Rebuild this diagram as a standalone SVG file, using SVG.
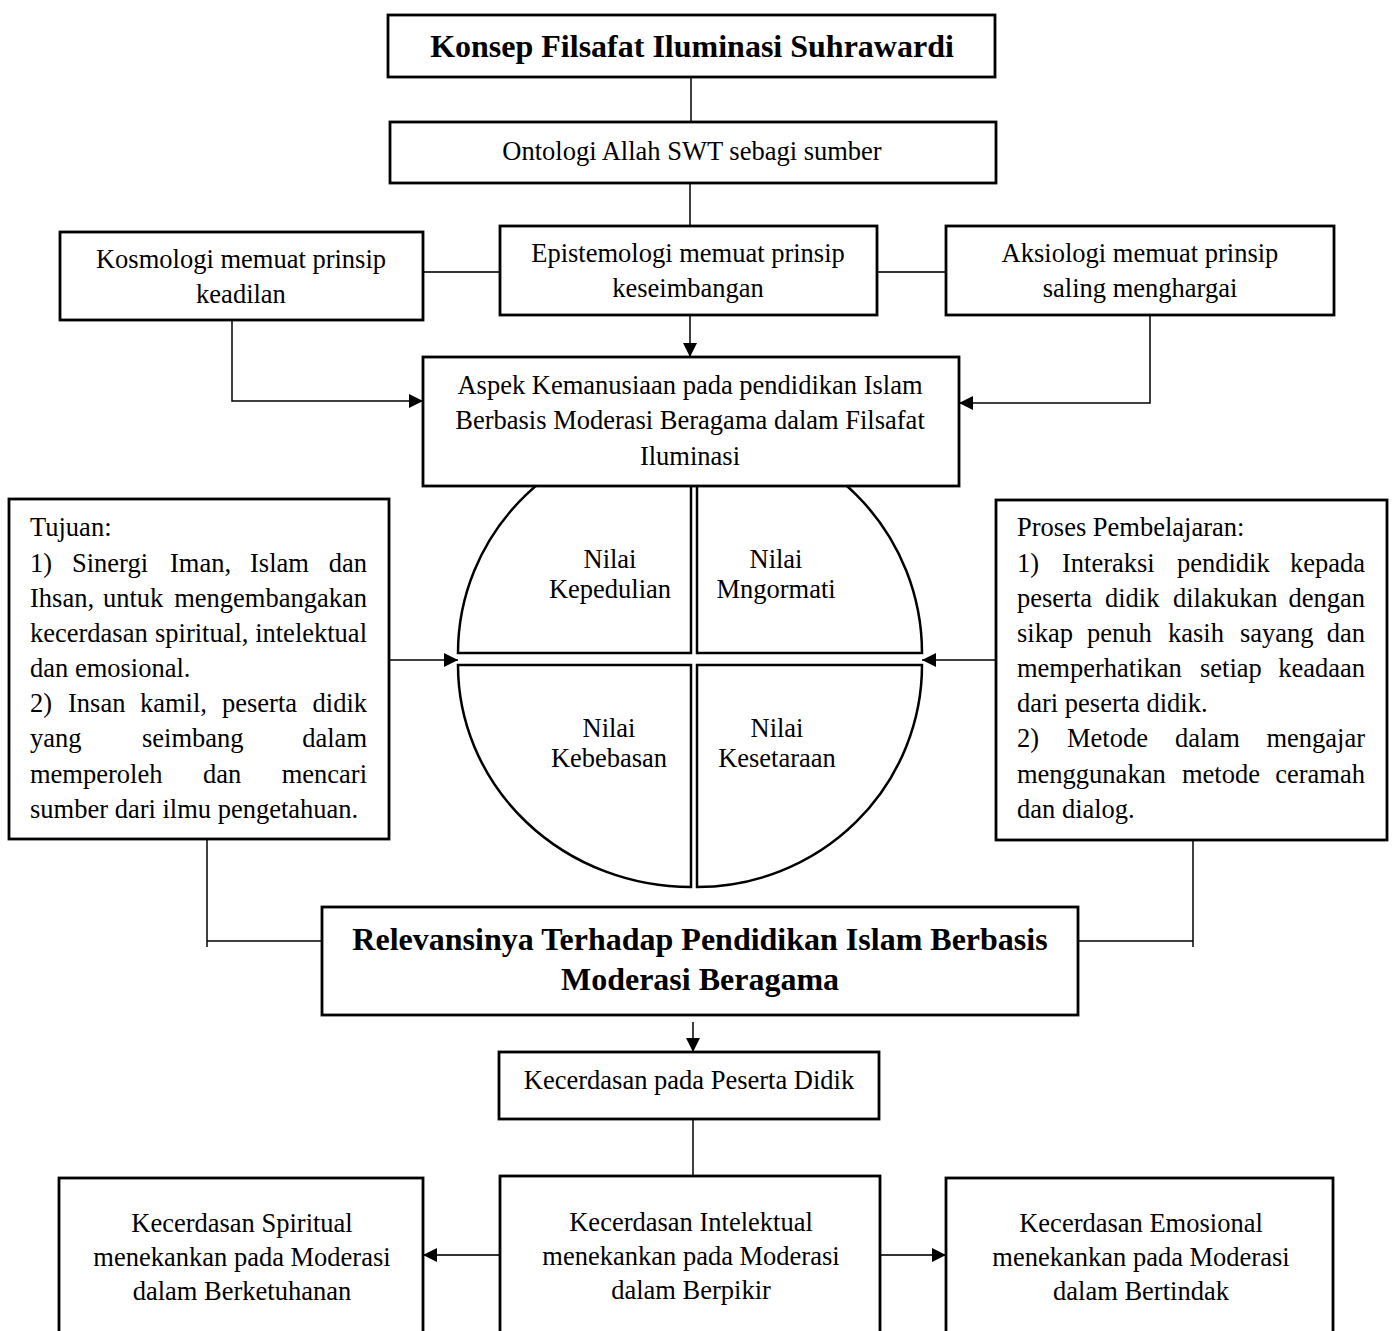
<svg xmlns="http://www.w3.org/2000/svg" width="1394" height="1331" viewBox="0 0 1394 1331">
<style>
.box{fill:#fff;stroke:#000;stroke-width:2.8}
.q{fill:#fff;stroke:#000;stroke-width:2.5}
.t{font-family:"Liberation Serif","Times New Roman",serif;font-size:26.5px;fill:#000}
.c{text-anchor:middle}
.b{font-weight:bold;font-size:32px}
.e{text-anchor:end}
.ln{fill:none;stroke:#000;stroke-width:1.5}
.lg{fill:none;stroke:#333;stroke-width:2}
</style>
<defs>
<marker id="ah" markerUnits="userSpaceOnUse" markerWidth="16" markerHeight="14" refX="14" refY="7" orient="auto">
<path d="M0,0 L14,7 L0,14 Z" fill="#000"/>
</marker>
</defs>
<rect width="1394" height="1331" fill="#fff"/>
<g id="connectors">
<line class="ln" x1="691" y1="77" x2="691" y2="122"/>
<line class="ln" x1="690" y1="183" x2="690" y2="227"/>
<line class="lg" x1="423" y1="272" x2="500" y2="272"/>
<line class="lg" x1="877" y1="272" x2="946" y2="272"/>
<line class="ln" x1="690" y1="315" x2="690" y2="357" marker-end="url(#ah)"/>
<polyline class="ln" points="232,320 232,401 423,401" marker-end="url(#ah)"/>
<polyline class="ln" points="1150,315 1150,403 959,403" marker-end="url(#ah)"/>
<line class="ln" x1="389" y1="660" x2="458" y2="660" marker-end="url(#ah)"/>
<line class="ln" x1="996" y1="660" x2="922" y2="660" marker-end="url(#ah)"/>
<polyline class="ln" points="207,839 207,947"/>
<line class="ln" x1="207" y1="941" x2="322" y2="941"/>
<polyline class="ln" points="1193,840 1193,947"/>
<line class="ln" x1="1078" y1="941" x2="1193" y2="941"/>
<line class="ln" x1="693" y1="1022" x2="693" y2="1052" marker-end="url(#ah)"/>
<line class="ln" x1="693" y1="1119" x2="693" y2="1176"/>
<line class="lg" x1="500" y1="1255" x2="423" y2="1255" marker-end="url(#ah)"/>
<line class="lg" x1="880" y1="1255" x2="946" y2="1255" marker-end="url(#ah)"/>
</g>
<g id="title">
<rect class="box" x="388" y="15" width="607" height="62"/>
<text class="t c b" x="692" y="57">Konsep Filsafat Iluminasi Suhrawardi</text>
</g>
<g id="ontologi">
<rect class="box" x="390" y="122" width="606" height="61"/>
<text class="t c" x="692" y="160">Ontologi Allah SWT sebagi sumber</text>
</g>
<g id="epistemologi">
<rect class="box" x="500" y="226" width="377" height="89"/>
<text class="t c" x="688" y="262">Epistemologi memuat prinsip</text>
<text class="t c" x="688" y="297">keseimbangan</text>
</g>
<g id="kosmologi">
<rect class="box" x="60" y="232" width="363" height="88"/>
<text class="t c" x="241" y="268">Kosmologi memuat prinsip</text>
<text class="t c" x="241" y="303">keadilan</text>
</g>
<g id="aksiologi">
<rect class="box" x="946" y="226" width="388" height="89"/>
<text class="t c" x="1140" y="262">Aksiologi memuat prinsip</text>
<text class="t c" x="1140" y="297">saling menghargai</text>
</g>
<g id="nilai-kepedulian">
<path class="q" d="M691,653 L458,653 A233,224 0 0 1 691,429 Z"/>
<text class="t c" x="610" y="568">Nilai</text>
<text class="t c" x="610" y="598">Kepedulian</text>
</g>
<g id="nilai-mngormati">
<path class="q" d="M697,653 L922,653 A225,224 0 0 0 697,429 Z"/>
<text class="t c" x="776" y="568">Nilai</text>
<text class="t c" x="776" y="598">Mngormati</text>
</g>
<g id="nilai-kebebasan">
<path class="q" d="M691,665 L458,665 A233,222 0 0 0 691,887 Z"/>
<text class="t c" x="609" y="737">Nilai</text>
<text class="t c" x="609" y="767">Kebebasan</text>
</g>
<g id="nilai-kesetaraan">
<path class="q" d="M697,665 L922,665 A225,222 0 0 1 697,887 Z"/>
<text class="t c" x="777" y="737">Nilai</text>
<text class="t c" x="777" y="767">Kesetaraan</text>
</g>
<g id="aspek">
<rect class="box" x="423" y="357" width="536" height="129"/>
<text class="t c" x="690" y="394">Aspek Kemanusiaan pada pendidikan Islam</text>
<text class="t c" x="690" y="429">Berbasis Moderasi Beragama dalam Filsafat</text>
<text class="t c" x="690" y="465">Iluminasi</text>
</g>
<g id="tujuan">
<rect class="box" x="9" y="499" width="380" height="340"/>
<text class="t" x="30" y="536">Tujuan:</text>
<text class="t" y="572"><tspan x="30">1)</tspan><tspan x="72">Sinergi</tspan><tspan x="170">Iman,</tspan><tspan x="250">Islam</tspan></text>
<text class="t e" x="367" y="572">dan</text>
<text class="t" y="607"><tspan x="30">Ihsan,</tspan><tspan x="103">untuk</tspan></text>
<text class="t e" x="367" y="607">mengembangakan</text>
<text class="t" y="642"><tspan x="30">kecerdasan</tspan><tspan x="155">spiritual,</tspan></text>
<text class="t e" x="367" y="642">intelektual</text>
<text class="t" x="30" y="677">dan emosional.</text>
<text class="t" y="712"><tspan x="30">2)</tspan><tspan x="68">Insan</tspan><tspan x="140">kamil,</tspan><tspan x="222">peserta</tspan></text>
<text class="t e" x="367" y="712">didik</text>
<text class="t" y="747"><tspan x="30">yang</tspan><tspan x="142">seimbang</tspan></text>
<text class="t e" x="367" y="747">dalam</text>
<text class="t" y="783"><tspan x="30">memperoleh</tspan><tspan x="203">dan</tspan></text>
<text class="t e" x="367" y="783">mencari</text>
<text class="t" x="30" y="818">sumber dari ilmu pengetahuan.</text>
</g>
<g id="proses">
<rect class="box" x="996" y="500" width="391" height="340"/>
<text class="t" x="1017" y="536">Proses Pembelajaran:</text>
<text class="t" y="572"><tspan x="1017">1)</tspan><tspan x="1062">Interaksi</tspan><tspan x="1177">pendidik</tspan></text>
<text class="t e" x="1365" y="572">kepada</text>
<text class="t" y="607"><tspan x="1017">peserta</tspan><tspan x="1105">didik</tspan><tspan x="1173">dilakukan</tspan></text>
<text class="t e" x="1365" y="607">dengan</text>
<text class="t" y="642"><tspan x="1017">sikap</tspan><tspan x="1087">penuh</tspan><tspan x="1168">kasih</tspan><tspan x="1240">sayang</tspan></text>
<text class="t e" x="1365" y="642">dan</text>
<text class="t" y="677"><tspan x="1017">memperhatikan</tspan><tspan x="1200">setiap</tspan></text>
<text class="t e" x="1365" y="677">keadaan</text>
<text class="t" x="1017" y="712">dari peserta didik.</text>
<text class="t" y="747"><tspan x="1017">2)</tspan><tspan x="1067">Metode</tspan><tspan x="1175">dalam</tspan></text>
<text class="t e" x="1365" y="747">mengajar</text>
<text class="t" y="783"><tspan x="1017">menggunakan</tspan><tspan x="1182">metode</tspan></text>
<text class="t e" x="1365" y="783">ceramah</text>
<text class="t" x="1017" y="818">dan dialog.</text>
</g>
<g id="relevansi">
<rect class="box" x="322" y="907" width="756" height="108"/>
<text class="t c b" x="700" y="950">Relevansinya Terhadap Pendidikan Islam Berbasis</text>
<text class="t c b" x="700" y="990">Moderasi Beragama</text>
</g>
<g id="kecerdasan">
<rect class="box" x="499" y="1052" width="380" height="67"/>
<text class="t c" x="689" y="1089">Kecerdasan pada Peserta Didik</text>
</g>
<g id="spiritual">
<rect class="box" x="59" y="1178" width="364" height="170"/>
<text class="t c" x="242" y="1232">Kecerdasan Spiritual</text>
<text class="t c" x="242" y="1266">menekankan pada Moderasi</text>
<text class="t c" x="242" y="1300">dalam Berketuhanan</text>
</g>
<g id="intelektual">
<rect class="box" x="500" y="1176" width="380" height="172"/>
<text class="t c" x="691" y="1231">Kecerdasan Intelektual</text>
<text class="t c" x="691" y="1265">menekankan pada Moderasi</text>
<text class="t c" x="691" y="1299">dalam Berpikir</text>
</g>
<g id="emosional">
<rect class="box" x="946" y="1178" width="387" height="170"/>
<text class="t c" x="1141" y="1232">Kecerdasan Emosional</text>
<text class="t c" x="1141" y="1266">menekankan pada Moderasi</text>
<text class="t c" x="1141" y="1300">dalam Bertindak</text>
</g>
</svg>
